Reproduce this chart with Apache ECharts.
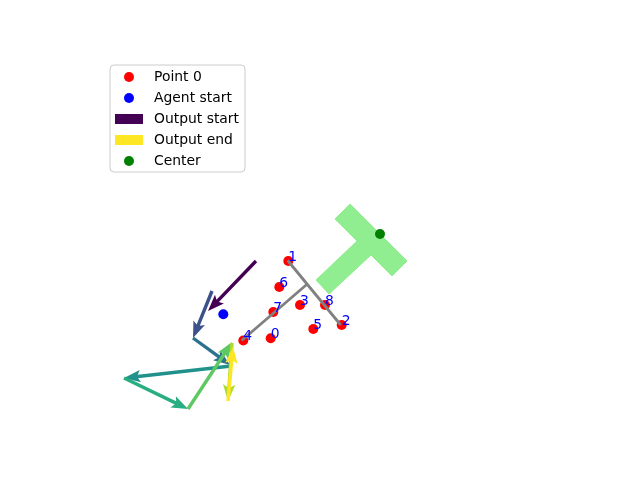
<!DOCTYPE html>
<html>
<head>
<meta charset="utf-8">
<script src="https://cdn.jsdelivr.net/npm/echarts@6/dist/echarts.min.js"></script>
<style>html,body{margin:0;padding:0;background:#fff;}#c{width:640px;height:480px;}</style>
</head>
<body>
<div id="c"></div>
<script>
// ---- data ----
const keypointLabels = ['0','1','2','3','4','5','6','7','8'];
const keypointX = [190.7, 208.3, 261.7, 220.0, 163.3, 233.3, 199.3, 193.3, 245.0];
const keypointY = [280.3, 203.0, 267.0, 247.0, 282.5, 271.0, 229.0, 254.0, 247.0];
const agentStart = [143.3, 256.3];
const centerPoint = [300.0, 176.0];
// skeleton segments
const skeletonStart = [[207.7, 202.5], [161.7, 282.5]];
const skeletonEnd   = [[260.7, 267.0], [227.0, 226.3]];
// T-shaped region outline
const tShapeX = [270, 327, 312, 291, 249, 236, 277, 255];
const tShapeY = [146, 203, 218, 197, 236, 222, 183, 161];
// output arrows (tail -> tip)
const arrowTailX = [176, 132, 113, 151, 44, 108, 152, 148];
const arrowTailY = [203, 233, 280, 308, 320, 351, 285, 343];
const arrowTipX  = [128, 113, 150, 44, 108, 152, 148, 153];
const arrowTipY  = [253, 280, 307, 320, 351, 284, 343, 289];
const arrowColors = ['#440154', '#3b528b', '#2c728e', '#21918c', '#28ae80', '#5ec962', '#addc30', '#fde725'];

const FONT = 'DejaVu Sans';

const chart = echarts.init(document.getElementById('c'), null, {renderer: 'canvas'});

const kpData = keypointX.map((x, i) => [x, keypointY[i], keypointLabels[i]]);
const arrowData = arrowTailX.map((x, i) => [x, arrowTailY[i], arrowTipX[i], arrowTipY[i], i]);

function renderArrow(params, api) {
  const p0 = api.coord([api.value(0), api.value(1)]);
  const p1 = api.coord([api.value(2), api.value(3)]);
  const dx = p1[0] - p0[0], dy = p1[1] - p0[1];
  const L = Math.sqrt(dx * dx + dy * dy) || 1;
  const ux = dx / L, uy = dy / L, nx = -uy, ny = ux;
  const hw = 1.7, hh = 6.2, hl = 16.5, ha = 14;
  const P = (a, b) => [p1[0] - ux * a + nx * b, p1[1] - uy * a + ny * b];
  const pts = [
    [p0[0] + nx * hw, p0[1] + ny * hw],
    P(ha, hw), P(hl, hh), [p1[0], p1[1]], P(hl, -hh), P(ha, -hw),
    [p0[0] - nx * hw, p0[1] - ny * hw]
  ];
  return {type: 'polygon', shape: {points: pts}, style: {fill: arrowColors[api.value(4)]}};
}

const option = {
  animation: false,
  backgroundColor: '#ffffff',
  grid: {left: 80, top: 58, width: 496, height: 369, containLabel: false},
  xAxis: {type: 'value', min: 0, max: 496, show: false},
  yAxis: {type: 'value', min: 0, max: 369, inverse: true, show: false},
  legend: {
    orient: 'vertical', left: 110, top: 65,
    padding: [5, 6, 4, 5],
    itemWidth: 28, itemHeight: 10, itemGap: 7,
    borderColor: '#cccccc', borderWidth: 1, borderRadius: 4,
    backgroundColor: 'rgba(255,255,255,0.8)',
    textStyle: {fontFamily: FONT, fontSize: 13.9, color: '#000', padding: [0, 0, 0, 6]},
    data: [
      {name: 'Point 0', icon: 'circle'},
      {name: 'Agent start', icon: 'circle'},
      {name: 'Output start', icon: 'rect'},
      {name: 'Output end', icon: 'rect'},
      {name: 'Center', icon: 'circle'}
    ]
  },
  series: [
    {
      type: 'custom', name: 'T region', z: 1, silent: true,
      data: [[tShapeX[0], tShapeY[0]]],
      renderItem: function (params, api) {
        const pts = tShapeX.map((x, i) => api.coord([x, tShapeY[i]]));
        return {type: 'polygon', shape: {points: pts}, style: {fill: '#90ee90', stroke: '#90ee90', lineWidth: 1}};
      }
    },
    {
      type: 'scatter', name: 'Point 0', z: 2, symbolSize: 10,
      itemStyle: {color: '#ff0000', opacity: 1},
      data: kpData
    },
    {
      type: 'lines', name: 'skeleton', coordinateSystem: 'cartesian2d', z: 3,
      lineStyle: {color: '#808080', width: 2.8, opacity: 1},
      data: skeletonStart.map((s, i) => ({coords: [s, skeletonEnd[i]]}))
    },
    {
      type: 'scatter', name: 'labels', z: 6, symbolSize: 10,
      itemStyle: {color: 'rgba(0,0,0,0)', opacity: 1},
      label: {
        show: true, formatter: p => p.data[2],
        position: [5, 8], align: 'left', verticalAlign: 'bottom',
        color: '#0000ff', fontFamily: FONT, fontSize: 13.9
      },
      data: kpData
    },
    {
      type: 'scatter', name: 'Agent start', z: 2, symbolSize: 10,
      itemStyle: {color: '#0000ff', opacity: 1},
      data: [agentStart]
    },
    {
      type: 'custom', name: 'arrows', z: 4,
      data: arrowData,
      encode: {x: [0, 2], y: [1, 3]},
      renderItem: renderArrow
    },
    {type: 'scatter', name: 'Output start', itemStyle: {color: '#440154', opacity: 1}, data: []},
    {type: 'scatter', name: 'Output end', itemStyle: {color: '#fde725', opacity: 1}, data: []},
    {
      type: 'scatter', name: 'Center', z: 5, symbolSize: 10,
      itemStyle: {color: '#008000', opacity: 1},
      data: [centerPoint]
    }
  ]
};
chart.setOption(option);
</script>
</body>
</html>
